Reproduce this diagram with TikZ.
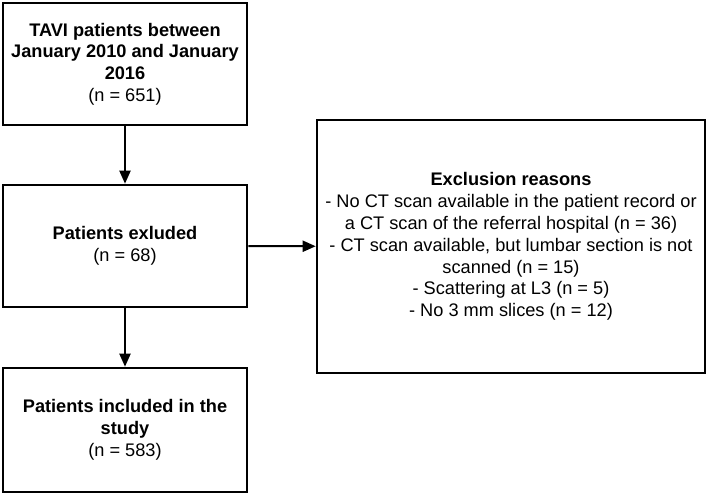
\documentclass[tikz,border=0pt]{standalone}
\usepackage{fontspec}
\setmainfont{Liberation Sans}
\usetikzlibrary{arrows.meta}

\tikzset{
  box/.style={draw, line width=2.6pt, rectangle, align=center, inner sep=2pt,
    font=\fontsize{18.2}{21.8}\selectfont},
  flow/.style={line width=2pt, -{Triangle[length=13pt,width=11pt]}}
}

\begin{document}
\begin{tikzpicture}[x=1pt, y=-1pt]
	% Frame
	\useasboundingbox (0,0) rectangle (709,495);

	% Boxes
	\node[box, minimum width=244pt, minimum height=122pt] (patients) at (125,64)
		{\textbf{TAVI patients between}\\\textbf{January 2010 and January}\\\textbf{2016}\\(n = 651)};
	\node[box, minimum width=244pt, minimum height=122pt] (excluded) at (125,246)
		{\textbf{Patients exluded}\\(n = 68)};
	\node[box, minimum width=244pt, minimum height=124pt] (included) at (125,430)
		{\textbf{Patients included in the}\\\textbf{study}\\(n = 583)};
	\node[box, minimum width=388pt, minimum height=253pt] (reasons) at (511,246.5)
		{\textbf{Exclusion reasons}\\- No CT scan available in the patient record or\\a CT scan of the referral hospital (n = 36)\\- CT scan available, but lumbar section is not\\scanned (n = 15)\\- Scattering at L3 (n = 5)\\- No 3 mm slices (n = 12)};

	% Arrows
	\draw[flow] (patients) -- (excluded);
	\draw[flow] (excluded) -- (included);
	\draw[flow] (excluded) -- (reasons);

\end{tikzpicture}
\end{document}
